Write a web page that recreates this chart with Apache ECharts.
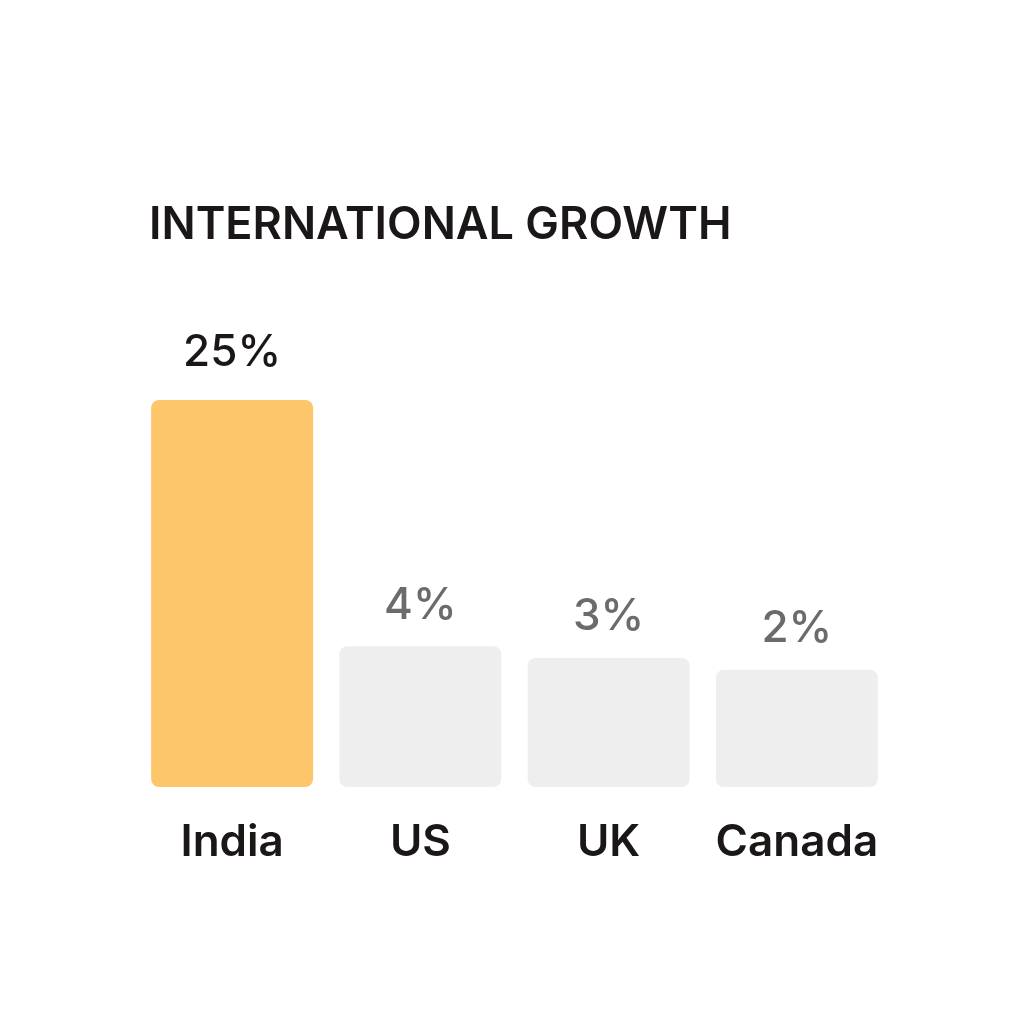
<!DOCTYPE html>
<html>
<head>
<meta charset="utf-8">
<script src="https://cdn.jsdelivr.net/npm/echarts@6/dist/echarts.min.js"></script>
<style>
  html, body { margin: 0; padding: 0; background: #fff; }
  #chart { width: 1024px; height: 1024px; }
</style>
</head>
<body>
<div id="chart"></div>
<script>
// data
var countries = ['India', 'US', 'UK', 'Canada'];
var growth = [25, 4, 3, 2];
var highlight = 'India';

var chart = echarts.init(document.getElementById('chart'));

var option = {
    backgroundColor: '#ffffff',
    animation: false,
    title: {
        text: 'INTERNATIONAL GROWTH',
        left: 144,
        top: 198,
        textStyle: {
            fontFamily: 'Inter',
            fontSize: 45,
            fontWeight: 600,
            color: '#1a1716'
        }
    },
    grid: {
        left: 138,
        right: 133,
        top: 400,
        bottom: 237
    },
    xAxis: {
        type: 'category',
        data: countries,
        axisLine: { show: false },
        axisTick: { show: false },
        axisLabel: {
            interval: 0,
            margin: 34,
            fontFamily: 'Inter',
            fontSize: 44,
            fontWeight: 600,
            color: '#1a1716'
        }
    },
    yAxis: {
        type: 'value',
        min: -8,
        max: 25,
        startValue: -8,   // bars grow from the bottom of the axis
        show: false,
        splitLine: { show: false }
    },
    series: [{
        type: 'bar',
        barWidth: 162,
        data: growth.map(function (v, i) {
            var hot = countries[i] === highlight;
            return {
                value: v,
                itemStyle: { color: hot ? '#fdc66a' : '#eeeeef' },
                label: {
                    color: hot ? '#1a1716' : '#6b6b6b',
                    distance: hot ? 25 : 19
                }
            };
        }),
        itemStyle: { borderRadius: 8 },
        label: {
            show: true,
            position: 'top',
            fontFamily: 'Inter',
            fontSize: 44,
            fontWeight: 500,
            formatter: '{c}%'
        }
    }]
};

chart.setOption(option);
</script>
</body>
</html>
